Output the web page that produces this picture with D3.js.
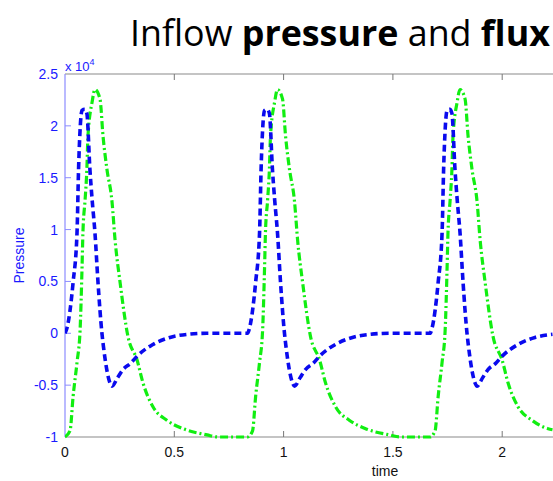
<!DOCTYPE html>
<html><head><meta charset="utf-8">
<script src="https://cdn.jsdelivr.net/npm/d3@7"></script>
<style>body{margin:0;background:#fff}svg{display:block}</style>
</head><body>
<svg id="c" width="553" height="481"></svg>
<script>
// ---- data (values in units of 1e4) ----
const titleParts = [["Inflow ", 400], ["pressure", 700], [" and ", 400], ["flux", 700]];
const xTicks = [0, 0.5, 1, 1.5, 2];
const yTicks = [-1, -0.5, 0, 0.5, 1, 1.5, 2, 2.5];
const xLabel = "time";
const yLabel = "Pressure";

const pressureTime = [
  0, 0.009, 0.037, 0.055, 0.062, 0.07, 0.078, 0.09, 0.1, 0.114, 0.124, 0.137, 0.151, 0.169, 0.176, 0.206, 0.215, 0.24, 0.265, 0.3, 0.33, 0.4, 0.48, 0.56, 0.65, 0.835,
  0.844, 0.872, 0.89, 0.897, 0.905, 0.913, 0.925, 0.935, 0.949, 0.959, 0.972, 0.986, 1.004, 1.011, 1.041, 1.05, 1.075, 1.1, 1.135, 1.165, 1.235, 1.315, 1.395, 1.485, 1.67,
  1.679, 1.707, 1.725, 1.732, 1.74, 1.748, 1.76, 1.77, 1.784, 1.794, 1.807, 1.821, 1.839, 1.846, 1.876, 1.885, 1.91, 1.935, 1.97, 2.0, 2.07, 2.15, 2.23
];
const pressureValue = [
  0, 0.05, 0.49, 0.97, 1.58, 2.0, 2.15, 2.16, 2.12, 1.58, 1.29, 0.97, 0.49, 0, -0.13, -0.48, -0.51, -0.43, -0.35, -0.29, -0.22, -0.11, -0.04, -0.01, 0, 0,
  0.05, 0.49, 0.97, 1.58, 2.0, 2.15, 2.16, 2.12, 1.58, 1.29, 0.97, 0.49, 0, -0.13, -0.48, -0.51, -0.43, -0.35, -0.29, -0.22, -0.11, -0.04, -0.01, 0, 0,
  0.05, 0.49, 0.97, 1.58, 2.0, 2.15, 2.16, 2.12, 1.58, 1.29, 0.97, 0.49, 0, -0.13, -0.48, -0.51, -0.43, -0.35, -0.29, -0.22, -0.11, -0.04, -0.01
];

const fluxTime = [
  0, 0.023, 0.037, 0.055, 0.069, 0.078, 0.082, 0.092, 0.1, 0.105, 0.124, 0.137, 0.16, 0.174, 0.192, 0.215, 0.229, 0.252, 0.288, 0.33, 0.357, 0.403, 0.467, 0.54, 0.65, 0.7, 0.835,
  0.858, 0.872, 0.89, 0.904, 0.913, 0.917, 0.927, 0.935, 0.94, 0.959, 0.972, 0.995, 1.009, 1.027, 1.05, 1.064, 1.087, 1.123, 1.165, 1.192, 1.238, 1.302, 1.375, 1.485, 1.535, 1.67,
  1.693, 1.707, 1.725, 1.739, 1.748, 1.752, 1.762, 1.77, 1.775, 1.794, 1.807, 1.83, 1.844, 1.862, 1.885, 1.899, 1.922, 1.958, 2.0, 2.027, 2.073, 2.137, 2.21, 2.23
];
const fluxValue = [
  -1, -0.94, -0.61, -0.28, 0.03, 0.64, 0.97, 1.29, 1.58, 1.9, 2.23, 2.35, 2.26, 1.9, 1.58, 1.27, 0.9, 0.49, -0.03, -0.26, -0.48, -0.71, -0.84, -0.92, -0.98, -1, -1,
  -0.94, -0.61, -0.28, 0.03, 0.64, 0.97, 1.29, 1.58, 1.9, 2.23, 2.35, 2.26, 1.9, 1.58, 1.27, 0.9, 0.49, -0.03, -0.26, -0.48, -0.71, -0.84, -0.92, -0.98, -1, -1,
  -0.94, -0.61, -0.28, 0.03, 0.64, 0.97, 1.29, 1.58, 1.9, 2.23, 2.35, 2.26, 1.9, 1.58, 1.27, 0.9, 0.49, -0.03, -0.26, -0.48, -0.71, -0.84, -0.92, -0.93
];

// ---- drawing ----
const svg = d3.select("#c");
const W = 553, H = 481;
const mLeft = 65, mTop = 74, mBottom = 437;
const x = d3.scaleLinear().domain([0, 2.5]).range([mLeft, mLeft + 218.6 * 2.5]);
const y = d3.scaleLinear().domain([-1, 2.5]).range([mBottom, mTop]);
const blue = "#1a1aff";
const font = "'Liberation Sans', Arial, sans-serif";

svg.append("clipPath").attr("id", "clip").append("rect")
  .attr("x", mLeft).attr("y", mTop - 10).attr("width", W - mLeft).attr("height", mBottom - mTop + 20);

// title
const title = svg.append("text").attr("x", 130).attr("y", 46)
  .attr("font-family", "'Open Sans', 'Noto Sans', sans-serif").attr("font-size", 32).attr("fill", "#000");
titleParts.forEach(([t, w]) => title.append("tspan").attr("font-weight", w).text(t));
const tw = title.node().getComputedTextLength();
title.attr("font-size", 32 * 420 / tw);

// box lines
svg.append("line").attr("x1", mLeft).attr("x2", W + 10).attr("y1", mTop).attr("y2", mTop)
  .attr("stroke", "#8a8a8a").attr("stroke-width", 1.2);
svg.append("line").attr("x1", mLeft).attr("x2", W + 10).attr("y1", mBottom).attr("y2", mBottom)
  .attr("stroke", "#8a8a8a").attr("stroke-width", 1.2);

// x axis ticks (inward, top and bottom)
const xg = svg.append("g").attr("font-family", font).attr("font-size", 14);
xTicks.forEach(t => {
  if (t > 0) {
    xg.append("line").attr("x1", x(t)).attr("x2", x(t)).attr("y1", mBottom).attr("y2", mBottom - 6).attr("stroke", "#777");
    xg.append("line").attr("x1", x(t)).attr("x2", x(t)).attr("y1", mTop).attr("y2", mTop + 6).attr("stroke", "#777");
  }
  xg.append("text").attr("x", x(t)).attr("y", mBottom + 20).attr("text-anchor", "middle").attr("fill", "#111").text(t);
});
svg.append("text").attr("x", 385).attr("y", 476).attr("text-anchor", "middle")
  .attr("font-family", font).attr("font-size", 14).attr("fill", "#111").text(xLabel);

// y axis (blue)
svg.append("line").attr("x1", mLeft).attr("x2", mLeft).attr("y1", mTop).attr("y2", mBottom)
  .attr("stroke", "#8c8cff").attr("stroke-width", 1.2);
const yg = svg.append("g").attr("font-family", font).attr("font-size", 14).attr("fill", blue);
yTicks.forEach(t => {
  if (t > -1 && t < 2.5) {
    yg.append("line").attr("x1", mLeft).attr("x2", mLeft + 6).attr("y1", y(t)).attr("y2", y(t)).attr("stroke", "#8c8cff");
  }
  yg.append("text").attr("x", mLeft - 7).attr("y", y(t) + 5).attr("text-anchor", "end").text(t);
});
const ex = svg.append("text").attr("x", mLeft).attr("y", 71).attr("font-family", font)
  .attr("font-size", 13).attr("fill", blue);
ex.append("tspan").text("x 10");
ex.append("tspan").attr("dy", -6).attr("font-size", 9).text("4");
svg.append("text").attr("transform", `translate(24,${y(0.75)}) rotate(-90)`).attr("text-anchor", "middle")
  .attr("font-family", font).attr("font-size", 14).attr("fill", blue).text(yLabel);

// lines
const line = d3.line().x(d => x(d[0])).y(d => y(d[1])).curve(d3.curveMonotoneX);
const plot = svg.append("g").attr("clip-path", "url(#clip)");
const fluxData = fluxTime.map((t, i) => [t, fluxValue[i]]);
const presData = pressureTime.map((t, i) => [t, pressureValue[i]]);
plot.append("path").datum(fluxData).attr("d", line).attr("fill", "none")
  .attr("stroke", "#11ee11").attr("stroke-width", 3.2).attr("stroke-dasharray", "8,3,2,3");
plot.append("path").datum(presData).attr("d", line).attr("fill", "none")
  .attr("stroke", "#0a0aee").attr("stroke-width", 3.6).attr("stroke-dasharray", "7,4");
</script>
</body></html>
